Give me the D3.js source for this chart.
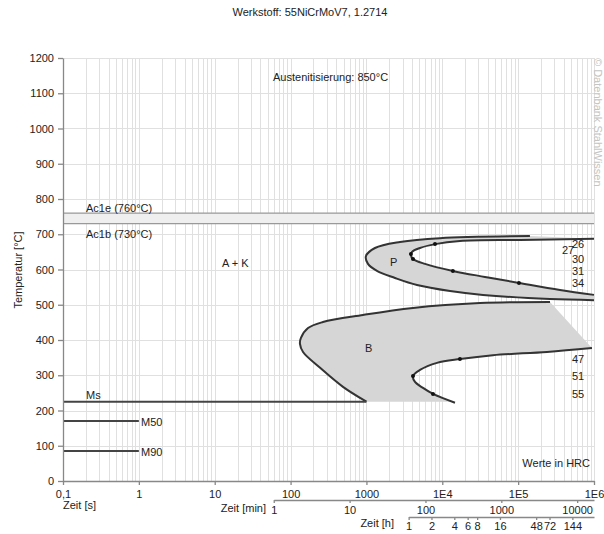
<!DOCTYPE html>
<html><head><meta charset="utf-8">
<script src="https://cdn.jsdelivr.net/npm/d3@7"></script>
<style>
body{margin:0;background:#fff}
svg text{font-family:"Liberation Sans",Arial,sans-serif;fill:#222}
</style></head><body>
<svg id="c" width="604" height="534"></svg>
<script>
// ---- data ----
const xTicks = [0.1, 1, 10, 100, 1000, 1e4, 1e5, 1e6];
const xTickLabels = ["0,1", "1", "10", "100", "1000", "1E4", "1E5", "1E6"];
const yTicks = [0,100,200,300,400,500,600,700,800,900,1000,1100,1200];
const minTicks = [1, 10, 100, 1000, 10000];
const hourTicks = [1, 2, 4, 6, 8, 16, 48, 72, 144];
const ac1e = 760, ac1b = 730;
const ms = 225, m50 = 170, m90 = 85;
// Perlit start curve [time s, temp °C]
const pStart = [[143000,695],[9330,689],[2770,678],[1297,661],[986,638],[1048,616],[1377,596],[2380,576],[4645,556],[12650,539],[34440,528],[263000,516],[1e6,513]];
// Perlit end curve
const pEnd = [[1e6,687],[105700,684],[17100,681],[8020,672],[5080,661],[3990,650],[3860,641],[4110,630],[5920,616],[13800,596],[36500,579],[102500,562],[356000,542],[1e6,528]];
// Bainit start curve
const bStart = [[263000,508],[31400,505],[4110,491],[902,471],[267,451],[170,434],[137,406],[133,389],[146,366],[245,321],[491,267],[1000,225]];
// Bainit end curve
const bEnd = [[940000,377],[240000,366],[46500,357],[17100,346],[8510,335],[5080,315],[4110,298],[4370,281],[5570,264],[7540,247],[14700,222]];
// hardness points [time s, temp °C, HRC]
const hardness = [[8020,672,26],[3860,644,27],[4110,630,30],[13800,596,31],[102500,562,34],[17100,346,47],[4110,298,51],[7540,247,55]];

// ---- scales ----
const svg = d3.select("#c");
const x = d3.scaleLog().domain([0.1, 1e6]).range([63, 594]);
const y = d3.scaleLinear().domain([0, 1200]).range([481, 58]);
const xMin = d3.scaleLog().domain([1, 1e6/60]).range([x(60), x(1e6)]);
const xH = d3.scaleLog().domain([1, 1e6/3600]).range([x(3600), x(1e6)]);

// grid
const vGrid = [];
for (let k = -1; k < 6; k++) for (let m = 1; m < 10; m++) vGrid.push(m * Math.pow(10, k));
vGrid.push(1e6);
svg.append("g").selectAll("line").data(vGrid).join("line")
  .attr("x1", d => Math.round(x(d)) + 0.5).attr("x2", d => Math.round(x(d)) + 0.5).attr("y1", y(1200)).attr("y2", y(0))
  .attr("stroke", "#e0e0e0").attr("stroke-width", 1);
svg.append("g").selectAll("line").data(yTicks).join("line")
  .attr("x1", x(0.1)).attr("x2", x(1e6)).attr("y1", d => Math.round(y(d)) + 0.5).attr("y2", d => Math.round(y(d)) + 0.5)
  .attr("stroke", "#e0e0e0").attr("stroke-width", 1);

// Ac band
svg.append("rect").attr("x", x(0.1)).attr("width", x(1e6) - x(0.1))
  .attr("y", y(ac1e)).attr("height", y(ac1b) - y(ac1e)).attr("fill", "#efefef");
[ac1e, ac1b].forEach(v => svg.append("line").attr("x1", x(0.1)).attr("x2", x(1e6))
  .attr("y1", y(v)).attr("y2", y(v)).attr("stroke", "#999").attr("stroke-width", 1.2));

const line = d3.line().x(d => x(d[0])).y(d => y(d[1])).curve(d3.curveCatmullRom.alpha(0.5));

// fills
svg.append("path").attr("d", line(pStart) + "L" + line(pEnd.slice().reverse()).slice(1) + "Z").attr("fill", "#d6d6d6");
const bFillPath = line(bStart) + "L" + x(bEnd[bEnd.length-1][0]) + "," + y(ms) + "L" + line(bEnd.slice().reverse()).slice(1) + "Z";
svg.append("path").attr("d", bFillPath).attr("fill", "#d6d6d6");

// curves
[pStart, pEnd, bStart, bEnd].forEach(c => svg.append("path").attr("d", line(c))
  .attr("fill", "none").attr("stroke", "#333").attr("stroke-width", 2));

// Ms, M50, M90
svg.append("line").attr("x1", x(0.1)).attr("x2", x(1000)).attr("y1", y(ms)).attr("y2", y(ms)).attr("stroke", "#444").attr("stroke-width", 2);
svg.append("line").attr("x1", x(0.1)).attr("x2", x(1)).attr("y1", y(m50)).attr("y2", y(m50)).attr("stroke", "#444").attr("stroke-width", 2);
svg.append("line").attr("x1", x(0.1)).attr("x2", x(1)).attr("y1", y(m90)).attr("y2", y(m90)).attr("stroke", "#444").attr("stroke-width", 2);

// hardness dots & labels
svg.append("g").selectAll("circle").data(hardness).join("circle")
  .attr("cx", d => x(d[0])).attr("cy", d => y(d[1])).attr("r", 2).attr("fill", "#111");
svg.append("g").selectAll("text").data(hardness).join("text")
  .attr("x", d => d[2] === 27 ? 562 : 572).attr("y", d => y(d[1]) + (d[2] === 27 ? 0 : 4))
  .attr("font-size", 11).text(d => d[2]);

// axes
const ax = svg.append("g").attr("transform", `translate(0,${y(0)})`)
  .call(d3.axisBottom(x).tickValues(xTicks).tickFormat((d, i) => xTickLabels[i]).tickSize(4).tickSizeOuter(0));
const ay = svg.append("g").attr("transform", `translate(${x(0.1)},0)`)
  .call(d3.axisLeft(y).tickValues(yTicks).tickFormat(d3.format("d")).tickSize(5).tickSizeOuter(0));
const am = svg.append("g").attr("transform", "translate(0,500)")
  .call(d3.axisBottom(xMin).tickValues(minTicks).tickFormat(d3.format("d")).tickSize(3).tickSizeOuter(0));
const ah = svg.append("g").attr("transform", "translate(0,517)")
  .call(d3.axisBottom(xH).tickValues(hourTicks).tickFormat(d3.format("d")).tickSize(3).tickSizeOuter(0));
[ax, ay, am, ah].forEach(g => {
  g.selectAll("path,line").attr("stroke", "#888").attr("stroke-width", 1.3);
  g.selectAll("text").attr("font-size", 11).attr("fill", "#222").style("font-family", '"Liberation Sans",Arial,sans-serif');
});
ax.selectAll("text").attr("dy", "0.9em");
am.selectAll("text").attr("dy", "0.7em");
ah.selectAll("text").attr("dy", "0.6em");
ay.selectAll("text").attr("dx", "-1");

// texts
const T = (tx, ty, s, opts = {}) => svg.append("text").attr("x", tx).attr("y", ty)
  .attr("font-size", opts.size || 11).attr("text-anchor", opts.anchor || "start").text(s);
T(310, 16, "Werkstoff: 55NiCrMoV7, 1.2714", {anchor: "middle"});
T(273, 81, "Austenitisierung: 850°C");
T(86, 212, "Ac1e (760°C)");
T(86, 238, "Ac1b (730°C)");
T(222, 267, "A + K");
T(390, 266, "P");
T(365, 352, "B");
T(86, 399, "Ms");
T(141, 426, "M50");
T(141, 456, "M90");
T(590, 467, "Werte in HRC", {anchor: "end"});
T(63, 509, "Zeit [s]");
T(266, 512, "Zeit [min]", {anchor: "end"});
T(394, 527, "Zeit [h]", {anchor: "end"});
svg.append("text").attr("transform", "translate(22,270) rotate(-90)").attr("text-anchor", "middle")
  .attr("font-size", 11).text("Temperatur [°C]");
svg.append("text").attr("transform", "translate(594,58) rotate(90)").attr("font-size", 11)
  .style("fill", "#c4c4c4").text("© Datenbank StahlWissen");
</script>
</body></html>
